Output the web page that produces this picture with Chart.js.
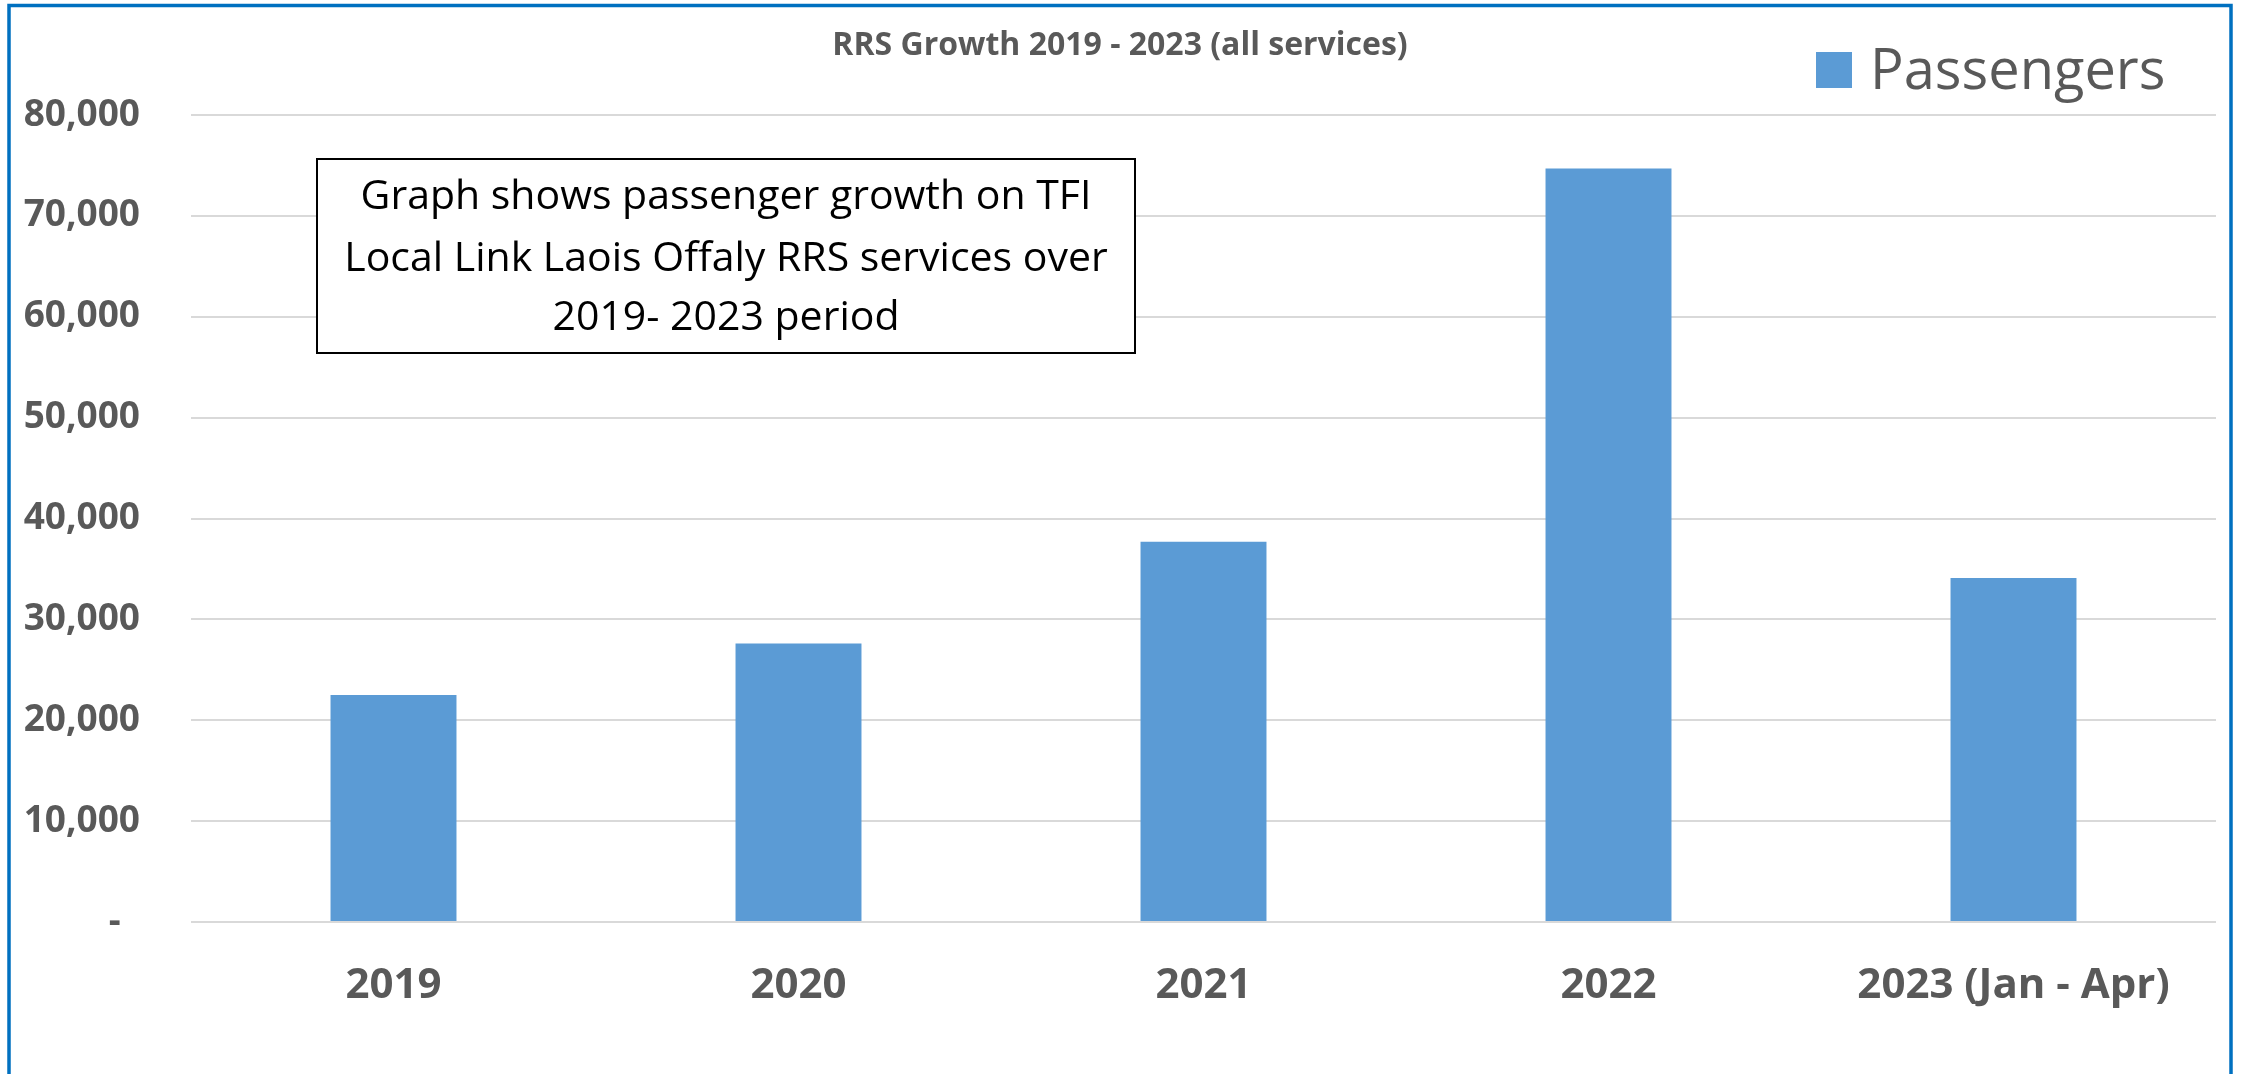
<!DOCTYPE html>
<html>
<head>
<meta charset="utf-8">
<script src="https://cdn.jsdelivr.net/npm/chart.js@4/dist/chart.umd.min.js"></script>
<style>
  html, body { margin: 0; padding: 0; background: #ffffff; overflow: hidden; }
  #wrap { position: relative; width: 2244px; height: 1074px; }
  canvas { display: block; }
</style>
</head>
<body>
<div id="wrap"><canvas id="c" width="2244" height="1074"></canvas></div>
<script>
// ---- data ----
const categories = ['2019', '2020', '2021', '2022', '2023 (Jan - Apr)'];
const passengers = [22500, 27600, 37700, 74700, 34100];
const seriesName = 'Passengers';
const chartTitle = 'RRS Growth 2019 - 2023 (all services)';
const noteLines = ['Graph shows passenger growth on TFI', 'Local Link Laois Offaly RRS services over', '2019- 2023 period'];
const yMin = 0, yMax = 80000, yStep = 10000;

const GREY = '#595959';
const BAR = '#5B9BD5';
const FONT = '"Open Sans", "Liberation Sans", sans-serif';

const overlay = {
  id: 'overlay',
  afterDraw(chart) {
    const ctx = chart.ctx;
    ctx.save();
    // title
    ctx.fillStyle = GREY;
    ctx.font = 'bold 32px ' + FONT;
    ctx.textAlign = 'center';
    ctx.textBaseline = 'alphabetic';
    ctx.fillText(chartTitle, 1120, 55);
    // legend
    ctx.fillStyle = chart.data.datasets[0].backgroundColor;
    ctx.fillRect(1816, 52, 36, 36);
    ctx.fillStyle = GREY;
    ctx.font = '56px ' + FONT;
    ctx.textAlign = 'left';
    ctx.fillText(chart.data.datasets[0].label, 1870, 89);
    // note box
    ctx.fillStyle = '#ffffff';
    ctx.fillRect(317, 159, 818, 194);
    ctx.strokeStyle = '#000000';
    ctx.lineWidth = 2;
    ctx.strokeRect(317, 159, 818, 194);
    ctx.fillStyle = '#000000';
    ctx.font = '41px ' + FONT;
    ctx.textAlign = 'center';
    const base = [209, 271, 330];
    noteLines.forEach((t, i) => ctx.fillText(t, 726, base[i]));
    // outer blue frame
    ctx.strokeStyle = '#0070C0';
    ctx.lineWidth = 3.5;
    ctx.strokeRect(9, 5.5, 2222, 1100);
    ctx.restore();
  }
};

new Chart(document.getElementById('c'), {
  type: 'bar',
  data: {
    labels: categories,
    datasets: [{
      label: seriesName,
      data: passengers,
      backgroundColor: BAR,
      borderWidth: 0,
      categoryPercentage: 1.0,
      barPercentage: 0.311
    }]
  },
  options: {
    responsive: false,
    devicePixelRatio: 1,
    animation: false,
    layout: { padding: { left: 0, top: 115, right: 28, bottom: 0 } },
    plugins: { legend: { display: false }, title: { display: false }, tooltip: { enabled: false } },
    scales: {
      x: {
        grid: { display: false, drawTicks: false },
        border: { display: false },
        ticks: { color: GREY, font: { family: FONT, size: 42, weight: 'bold' }, padding: 39, maxRotation: 0, autoSkip: false },
        afterFit(s) { s.height = 1074 - 922; }
      },
      y: {
        min: yMin, max: yMax,
        grid: { color: '#D9D9D9', lineWidth: 2, drawTicks: false },
        border: { display: false },
        ticks: {
          stepSize: yStep,
          color: GREY,
          font: { family: FONT, size: 37, weight: 'bold' },
          padding: 51,
          callback: v => v === 0 ? '-  ' : v.toLocaleString('en-US')
        },
        afterFit(s) { s.width = 191; }
      }
    }
  },
  plugins: [overlay]
});
</script>
</body>
</html>
